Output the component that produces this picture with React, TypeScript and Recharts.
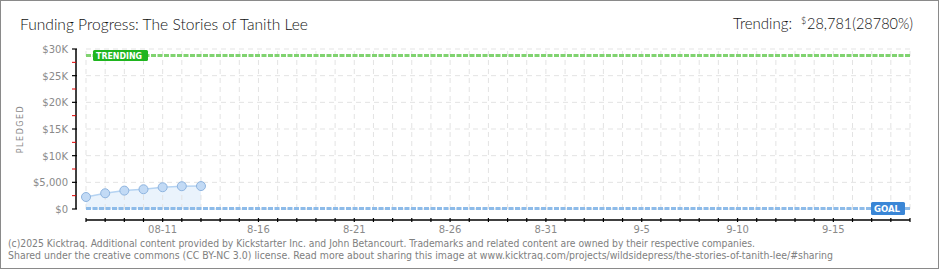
import { ComposedChart, Area, XAxis, YAxis, ReferenceLine } from 'recharts';

// day 0 = 08-07, campaign ends day 43 = 9-19
const days = [0, 1, 2, 3, 4, 5, 6];
const pledged = [2250, 2950, 3450, 3700, 4080, 4270, 4300];

const trendingValue = 28781;
const goalValue = 100;
const lastDay = 43;

const yMajorTicks = [0, 5000, 10000, 15000, 20000, 25000, 30000];
const yMajorLabels = ['$0', '$5,000', '$10K', '$15K', '$20K', '$25K', '$30K'];
const yMinorTicks = [2500, 7500, 12500, 17500, 22500, 27500];

const xLabelDays = [4, 9, 14, 19, 24, 29, 34, 39];
const xLabels = ['08-11', '8-16', '8-21', '8-26', '8-31', '9-5', '9-10', '9-15'];

const allDays = Array.from({ length: lastDay + 1 }, (_, i) => i);
const yTicks = [...yMajorTicks, ...yMinorTicks].sort((a, b) => a - b);

const data = days.map((d, i) => ({ day: d, pledged: pledged[i] }));

const GRAY = '#8a8a8a';
const GRID = '#e3e3e3';
const TICK_FONT = '"DejaVu Sans", sans-serif';
const TITLE_FONT = 'Lato, Roboto, sans-serif';

function YTick({ x, y, payload }: any) {
  const idx = yMajorTicks.indexOf(payload.value);
  if (idx < 0) {
    return <line x1={x - 4} x2={x} y1={y} y2={y} stroke="#e00000" strokeWidth={1} />;
  }
  return (
    <g>
      <line x1={x - 4} x2={x + 1} y1={y} y2={y} stroke="#000" strokeWidth={1.2} />
      <text x={x - 8} y={y + 4} textAnchor="end" fontSize={10} fill={GRAY} fontFamily={TICK_FONT}>
        {yMajorLabels[idx]}
      </text>
    </g>
  );
}

function XTick({ x, y, payload }: any) {
  const idx = xLabelDays.indexOf(payload.value);
  return (
    <g>
      <line x1={x} x2={x} y1={y - 2} y2={y + 2} stroke="#000" strokeWidth={1.2} />
      {idx >= 0 && (
        <text x={x} y={y + 13} textAnchor="middle" fontSize={10} fill={GRAY} fontFamily={TICK_FONT}>
          {xLabels[idx]}
        </text>
      )}
    </g>
  );
}

function TrendingLabel({ viewBox }: any) {
  const { x, y } = viewBox;
  return (
    <g>
      <rect x={x + 7} y={y - 5.5} width={55} height={11} rx={1.5} fill="#1fb51f" />
      <text x={x + 10} y={y + 3.5} fontSize={9.5} fontWeight="bold" fill="#fff" fontFamily={TICK_FONT} textLength={46} lengthAdjust="spacingAndGlyphs">
        TRENDING
      </text>
    </g>
  );
}

function GoalLabel({ viewBox }: any) {
  const { x, y, width } = viewBox;
  return (
    <g>
      <rect x={x + width - 39} y={y - 6.5} width={34} height={13} rx={1.5} fill="#3a86d6" />
      <text x={x + width - 36} y={y + 3.5} fontSize={9.5} fontWeight="bold" fill="#fff" fontFamily={TICK_FONT} textLength={26} lengthAdjust="spacingAndGlyphs">
        GOAL
      </text>
    </g>
  );
}

export default function App() {
  return (
    <div style={{ position: 'absolute', left: 0, top: 0, width: 940, height: 270, background: '#fff', overflow: 'hidden' }}>
      <div style={{ position: 'absolute', left: 0, top: 0 }}>
        <ComposedChart width={940} height={270} data={data} margin={{ top: 49, right: 30, bottom: 30, left: 0 }}>
          <XAxis
            dataKey="day"
            type="number"
            domain={[-0.522, lastDay]}
            ticks={allDays}
            interval={0}
            tick={<XTick />}
            tickSize={0}
            tickMargin={0}
            axisLine={false}
            tickLine={false}
            height={20}
            allowDataOverflow
          />
          <YAxis
            type="number"
            domain={[-2062.5, 30000]}
            ticks={yTicks}
            interval={0}
            tick={<YTick />}
            tickSize={0}
            tickMargin={0}
            axisLine={false}
            tickLine={false}
            width={76}
            allowDataOverflow
          />
          {allDays.map((d) => (
            <ReferenceLine
              key={`v${d}`}
              segment={[{ x: d, y: 0 }, { x: d, y: 30000 }]}
              stroke={GRID}
              strokeDasharray="5 4"
              ifOverflow="visible"
            />
          ))}
          {yMajorTicks.map((v) => (
            <ReferenceLine
              key={`h${v}`}
              segment={[{ x: 0, y: v }, { x: lastDay, y: v }]}
              stroke={GRID}
              strokeDasharray="5 4"
              ifOverflow="visible"
            />
          ))}
          <Area
            dataKey="pledged"
            type="linear"
            baseValue={0}
            stroke="#b5d3f2"
            strokeWidth={1.5}
            fill="#eaf3fc"
            fillOpacity={1}
            dot={{ r: 4.5, fill: '#c2daf5', stroke: '#8eb4df', strokeWidth: 1, fillOpacity: 1 }}
            activeDot={false}
            isAnimationActive={false}
          />
          <ReferenceLine
            segment={[{ x: -0.522, y: 0 }, { x: -0.522, y: 30000 }]}
            stroke="#000"
            strokeWidth={1.5}
            ifOverflow="visible"
          />
          <ReferenceLine
            segment={[{ x: 0, y: -2062.5 }, { x: lastDay, y: -2062.5 }]}
            stroke="#000"
            strokeWidth={1.5}
            ifOverflow="visible"
          />
          <ReferenceLine
            segment={[{ x: 0, y: trendingValue }, { x: lastDay, y: trendingValue }]}
            stroke="#80d370"
            strokeWidth={3}
            strokeDasharray="5 1.5"
            ifOverflow="visible"
            label={<TrendingLabel />}
          />
          <ReferenceLine
            segment={[{ x: 0, y: goalValue }, { x: lastDay, y: goalValue }]}
            stroke="#8dbbe9"
            strokeWidth={3}
            strokeDasharray="5 1.5"
            ifOverflow="visible"
            label={<GoalLabel />}
          />
        </ComposedChart>
      </div>
      <svg width={940} height={270} style={{ position: 'absolute', left: 0, top: 0, pointerEvents: 'none' }}>
        <rect x={0.5} y={0.5} width={938} height={268} fill="none" stroke="#8a8a8a" strokeWidth={1} />
        <text x={20} y={30} fontSize={16} fontWeight={300} fontFamily={TITLE_FONT} fill="#111" textLength={288} lengthAdjust="spacingAndGlyphs">
          Funding Progress: The Stories of Tanith Lee
        </text>
        <text y={29} fontSize={16} fontWeight={300} fontFamily={TITLE_FONT} fill="#111">
          <tspan x={733} textLength={59} lengthAdjust="spacingAndGlyphs">Trending:</tspan>
          <tspan x={801} dy={-5} fontSize={9}>$</tspan>
          <tspan x={807} dy={5} textLength={106} lengthAdjust="spacingAndGlyphs">28,781(28780%)</tspan>
        </text>
        <text
          transform="translate(23,129) rotate(-90)"
          textAnchor="middle"
          fontSize={8}
          fontFamily={TICK_FONT}
          fill={GRAY}
          letterSpacing={1.5}
        >
          PLEDGED
        </text>
        <text x={8} y={247} fontSize={10} fontFamily={TICK_FONT} fill="#808080" textLength={747} lengthAdjust="spacingAndGlyphs">
          (c)2025 Kicktraq. Additional content provided by Kickstarter Inc. and John Betancourt. Trademarks and related content are owned by their respective companies.
        </text>
        <text x={8} y={259} fontSize={10} fontFamily={TICK_FONT} fill="#808080" textLength={825} lengthAdjust="spacingAndGlyphs">
          Shared under the creative commons (CC BY-NC 3.0) license. Read more about sharing this image at www.kicktraq.com/projects/wildsidepress/the-stories-of-tanith-lee/#sharing
        </text>
      </svg>
    </div>
  );
}
